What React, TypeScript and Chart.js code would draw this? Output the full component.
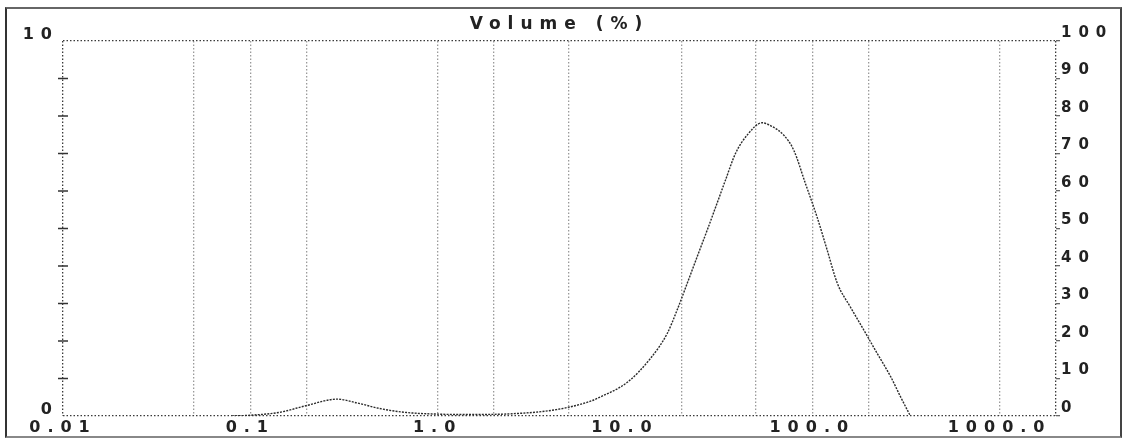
import React, { useEffect, useRef } from "react";
import { Chart, registerables } from "chart.js";

Chart.register(...registerables);

// Particle diameter (µm) and volume (%)
const diameters = [
  0.08, 0.1, 0.144, 0.2, 0.29, 0.37, 0.49, 0.66, 1.0, 1.5, 2.5, 4.3, 6.5, 7.4,
  10.3, 13.7, 16.8, 19, 21.5, 24.3, 27.5, 31, 34.4, 38.9, 44.9, 54, 61, 70.4,
  79.6, 91.9, 106, 120, 136, 160, 188, 222, 262, 296, 334,
];
const volume = [
  0, 0.02, 0.1, 0.28, 0.45, 0.35, 0.2, 0.1, 0.05, 0.04, 0.06, 0.17, 0.39, 0.51,
  0.9, 1.54, 2.2, 2.83, 3.54, 4.25, 4.96, 5.67, 6.29, 7.0, 7.49, 7.82, 7.72, 7.49,
  7.09, 6.2, 5.31, 4.43, 3.54, 2.9, 2.3, 1.67, 1.05, 0.51, 0,
];

const xMin = 0.01;
const xMax = 2000;
const xLabelValues = [0.01, 0.1, 1, 10, 100, 1000];
const xLabelTexts = ["0.01", "0.1", "1.0", "10.0", "100.0", "1000.0"];
const xGridValues = [0.05, 0.1, 0.2, 1, 2, 5, 20, 50, 100, 200, 1000];

const leftMin = 0;
const leftMax = 10;
const leftLabelValues = [0, 10];

const rightMin = 0;
const rightMax = 100;
const rightStep = 10;

const titleText = "Volume (%)";

const FONT = "'DejaVu Sans', sans-serif";
const INK = "#222";

const spacingPlugin = {
  id: "letterSpacing",
  beforeUpdate(chart: any) {
    chart.ctx.letterSpacing = "7px";
  },
  beforeLayout(chart: any) {
    chart.ctx.letterSpacing = "7px";
  },
  beforeDraw(chart: any) {
    chart.ctx.letterSpacing = "7px";
  },
};

const crossTicksPlugin = {
  id: "crossTicks",
  afterDraw(chart: any) {
    const s = chart.scales.y;
    const ctx = chart.ctx;
    const x = chart.chartArea.left;
    ctx.save();
    ctx.strokeStyle = "#333";
    ctx.lineWidth = 1.5;
    s.ticks.forEach((t: any) => {
      if (t.value > leftMin && t.value < leftMax) {
        const y = s.getPixelForValue(t.value);
        ctx.beginPath();
        ctx.moveTo(x - 5, y);
        ctx.lineTo(x + 5, y);
        ctx.stroke();
      }
    });
    ctx.restore();
  },
};

export default function App() {
  const canvasRef = useRef<HTMLCanvasElement | null>(null);

  useEffect(() => {
    if (!canvasRef.current) return;
    const allXTicks = Array.from(
      new Set([xMin, ...xLabelValues, ...xGridValues, xMax])
    ).sort((a, b) => a - b);

    const chart = new Chart(canvasRef.current, {
      type: "line",
      data: {
        datasets: [
          {
            data: diameters.map((d, i) => ({ x: d, y: volume[i] })),
            yAxisID: "y",
            borderColor: "#2a2a2a",
            borderWidth: 1.4,
            borderDash: [2, 1.2],
            pointRadius: 0,
            fill: false,
            cubicInterpolationMode: "monotone",
          },
        ],
      },
      options: {
        animation: false,
        responsive: false,
        devicePixelRatio: 1,
        layout: { padding: 0 },
        plugins: {
          legend: { display: false },
          tooltip: { enabled: false },
          title: {
            display: true,
            text: titleText,
            fullSize: false,
            color: INK,
            font: { family: FONT, size: 17, weight: "bold" },
            padding: { top: 14, bottom: 6.6 },
          },
        },
        scales: {
          x: {
            type: "logarithmic",
            min: xMin,
            max: xMax,
            afterBuildTicks: (s: any) => {
              s.ticks = allXTicks.map((v) => ({ value: v }));
            },
            afterFit: (s: any) => {
              s.height = 22;
            },
            ticks: {
              autoSkip: false,
              maxRotation: 0,
              minRotation: 0,
              padding: 2,
              color: INK,
              font: { family: FONT, size: 16, weight: "bold" },
              callback: (v: any) => {
                const i = xLabelValues.indexOf(Number(v));
                return i >= 0 ? xLabelTexts[i] : "";
              },
            },
            grid: {
              drawTicks: false,
              lineWidth: 1.3,
              color: (ctx: any) => {
                const v = ctx.tick ? ctx.tick.value : null;
                if (v === xMin || v === xMax) return "#3a3a3a";
                if (xGridValues.includes(v)) return "#9a9a9a";
                return "rgba(0,0,0,0)";
              },
            },
            border: { display: false, dash: [1.5, 2] },
          },
          y: {
            type: "linear",
            position: "left",
            min: leftMin,
            max: leftMax,
            afterFit: (s: any) => {
              s.width = 63;
            },
            ticks: {
              stepSize: 1,
              padding: 4,
              labelOffset: -6,
              color: INK,
              font: { family: FONT, size: 16, weight: "bold" },
              callback: (v: any) =>
                leftLabelValues.includes(Number(v)) ? String(v) : "",
            },
            grid: {
              drawTicks: false,
              lineWidth: 1.3,
              color: (ctx: any) => {
                const v = ctx.tick ? ctx.tick.value : null;
                return v === leftMin || v === leftMax ? "#3a3a3a" : "rgba(0,0,0,0)";
              },
            },
            border: { display: false, dash: [1.5, 2] },
          },
          y2: {
            type: "linear",
            position: "right",
            min: rightMin,
            max: rightMax,
            afterFit: (s: any) => {
              s.width = 75;
            },
            ticks: {
              stepSize: rightStep,
              padding: 1,
              labelOffset: -8,
              color: INK,
              font: { family: FONT, size: 15, weight: "bold" },
            },
            grid: {
              drawOnChartArea: false,
              drawTicks: true,
              tickLength: 4,
              lineWidth: 1.3,
              color: "#666",
            },
            border: { display: false },
          },
        },
      },
      plugins: [spacingPlugin, crossTicksPlugin],
    } as any);

    return () => chart.destroy();
  }, []);

  return (
    <div
      style={{
        position: "absolute",
        left: 0,
        top: 0,
        width: 1131,
        height: 438,
        background: "#fff",
      }}
    >
      <canvas
        ref={canvasRef}
        width={1131}
        height={438}
        style={{ position: "absolute", left: 0, top: 0, width: 1131, height: 438 }}
      />
      <div
        style={{
          position: "absolute",
          left: 5,
          top: 7,
          width: 1117,
          height: 431,
          boxSizing: "border-box",
          borderLeft: "2px solid #333",
          borderTop: "2px solid #666",
          borderRight: "2px solid #444",
          borderBottom: "2px solid #888",
          pointerEvents: "none",
        }}
      />
    </div>
  );
}
